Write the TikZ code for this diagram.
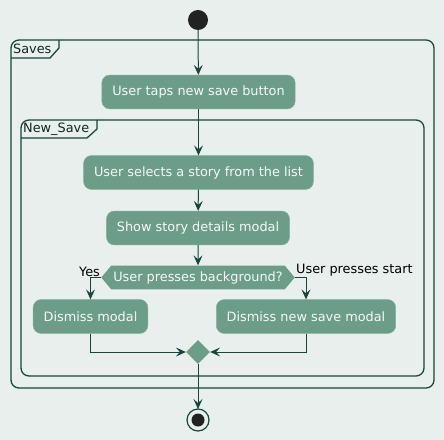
\documentclass[tikz,border=0pt]{standalone}
\usepackage{fontspec}
\setmainfont{DejaVu Sans}
\usepackage{tikz}
\usetikzlibrary{
  arrows.meta,
  positioning,
  shapes.geometric,
  shapes.symbols,
}

\definecolor{bgcol}{RGB}{232,239,236}
\definecolor{actcol}{RGB}{108,157,137}
\definecolor{linecol}{RGB}{22,70,60}
\definecolor{dotcol}{RGB}{34,34,34}

\tikzset{
  act/.style={draw=actcol!85!white, fill=actcol, rounded corners=8,
    text=white!94!actcol, minimum height=34, inner xsep=10.5},
  flow/.style={draw=linecol, line width=1,
    -{Stealth[length=10, width=9, inset=4]}},
  frameline/.style={draw=linecol, line width=1.3},
  lbl/.style={text=black, inner sep=1},
}

\begin{document}
\begin{tikzpicture}[x=1bp, y=-1bp, font=\fontsize{12.9}{15}\selectfont]

\fill[bgcol] (0,0) rectangle (444,440);

% outer frame
\draw[frameline, rounded corners=8] (11,40) rectangle (434,388);
\draw[frameline] (11,58) -- (50,58) -- (59,48) -- (59,40);
\node[lbl, anchor=west, text=linecol!60!black] (savestag) at (12,49) {Saves};

% inner frame
\draw[frameline, rounded corners=8] (21,120) rectangle (424,376);
\draw[frameline] (21,138) -- (87,138) -- (97,129) -- (97,120);
\node[lbl, anchor=west, text=linecol!60!black] (newtag) at (22,129) {New\_Save};

% nodes
\fill[dotcol] (198,20) circle (10);
\coordinate (start) at (198,30);

\node[act] (taps) at (198.5,92) {User taps new save button};
\node[act] (select) at (198.5,172.5) {User selects a story from the list};
\node[act] (details) at (198,228) {Show story details modal};

\node[signal, signal to=west and east, signal pointer angle=100,
  fill=actcol, text=white!94!actcol, minimum height=24, inner xsep=2,
  inner ysep=0] (choice) at (198,277.5) {User presses background?};

\node[act] (dismiss) at (90.5,316.5) {Dismiss modal};
\node[act] (dismissnew) at (306,316.5) {Dismiss new save modal};

\node[diamond, fill=actcol, minimum width=24, minimum height=24,
  inner sep=0] (merge) at (198,352) {};

\draw[linecol, line width=1.2, fill=bgcol] (198,420) circle (11);
\fill[dotcol] (198,420) circle (6.5);
\coordinate (stop) at (198,409);

% connectors
\draw[flow] (start) -- (taps);
\draw[flow] (taps) -- (select);
\draw[flow] (select) -- (details);
\draw[flow] (details) -- (choice);
\draw[flow] (choice.west) -| (dismiss.north);
\draw[flow] (choice.east) -| (dismissnew.north);
\draw[flow] (dismiss.south) |- (merge.west);
\draw[flow] (dismissnew.south) |- (merge.east);
\draw[flow] (merge) -- (stop);

\node[lbl, anchor=south east] (yes) at (choice.west) {Yes};
\node[lbl, anchor=south west] (start lbl) at (choice.east) {User presses start};

\end{tikzpicture}
\end{document}
